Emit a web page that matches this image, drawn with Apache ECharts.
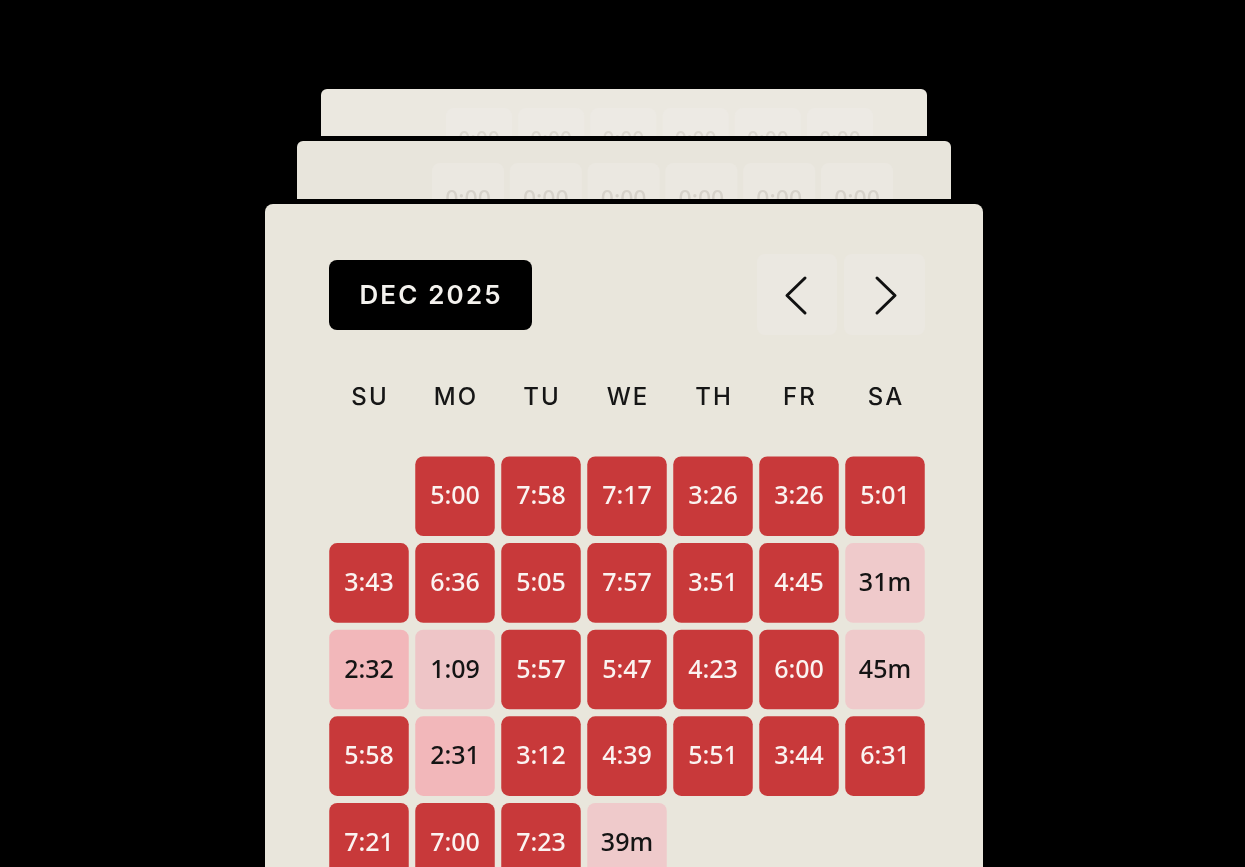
<!DOCTYPE html>
<html>
<head>
<meta charset="utf-8">
<script src="https://cdn.jsdelivr.net/npm/echarts@6/dist/echarts.min.js"></script>
<style>
html,body{margin:0;padding:0;background:#000;}
#chart{width:1245px;height:867px;}
</style>
</head>
<body>
<div id="chart"></div>
<script>
// ---- data ----
var monthTitle = 'DEC 2025';
var weekdays = ['SU', 'MO', 'TU', 'WE', 'TH', 'FR', 'SA'];
var firstWeekday = 1; // Dec 1, 2025 is a Monday
// minutes tracked per day, Dec 1..31
var dayMinutes = [300, 478, 437, 206, 206, 301,
  223, 396, 305, 477, 231, 285, 31,
  152, 69, 357, 347, 263, 360, 45,
  358, 151, 192, 279, 351, 224, 391,
  441, 420, 443, 39];
var ghostLabels = ['0:00', '0:00', '0:00', '0:00', '0:00', '0:00'];

function fmt(m) {
  if (m < 60) return m + 'm';
  var h = Math.floor(m / 60), mm = m % 60;
  return h + ':' + (mm < 10 ? '0' : '') + mm;
}

var cells = dayMinutes.map(function (m, i) {
  var pos = i + firstWeekday;
  return [pos % 7, Math.floor(pos / 7), m];
});

var spaced = function (s) { return s.split('').join('\u200A'); };

var chart = echarts.init(document.getElementById('chart'), null, {renderer: 'canvas'});

var graphics = [];
// back card 3 (furthest)
graphics.push({type: 'rect', shape: {x: 321, y: 89, width: 606, height: 47, r: [6, 6, 0, 0]}, style: {fill: '#ebe8e0'}, z: 0});
ghostLabels.forEach(function (t, i) {
  var x3 = 446 + i * 72.2;
  graphics.push({type: 'rect', shape: {x: x3, y: 108, width: 66, height: 28, r: [8, 8, 0, 0]}, style: {fill: '#edeae4'}, z: 0.5});
  graphics.push({type: 'text', x: x3 + 33, y: 141, style: {text: t, fill: '#dcd8d0', font: '500 21px "Noto Sans", sans-serif', align: 'center', verticalAlign: 'middle'}, z: 0.6});
});
graphics.push({type: 'rect', shape: {x: 290, y: 136, width: 670, height: 5}, style: {fill: '#000'}, z: 0.8});
// back card 2
graphics.push({type: 'rect', shape: {x: 297, y: 141, width: 654, height: 58, r: [6, 6, 0, 0]}, style: {fill: '#e8e5dc'}, z: 1});
ghostLabels.forEach(function (t, i) {
  var x2 = 432 + i * 77.8;
  graphics.push({type: 'rect', shape: {x: x2, y: 163, width: 72, height: 36, r: [8, 8, 0, 0]}, style: {fill: '#ebe8e1'}, z: 1.5});
  graphics.push({type: 'text', x: x2 + 36, y: 200, style: {text: t, fill: '#d6d2ca', font: '500 23px "Noto Sans", sans-serif', align: 'center', verticalAlign: 'middle'}, z: 1.6});
});
// separator and main card
graphics.push({type: 'rect', shape: {x: 260, y: 199, width: 730, height: 5}, style: {fill: '#000'}, z: 1.8});
graphics.push({type: 'rect', shape: {x: 265, y: 204, width: 718, height: 700, r: [8, 8, 0, 0]}, style: {fill: '#e9e6dc'}, z: 1.9});
// month badge
graphics.push({type: 'rect', shape: {x: 329, y: 260, width: 203, height: 70, r: 8}, style: {fill: '#000'}, z: 5});
graphics.push({type: 'text', x: 430, y: 296, style: {text: spaced(monthTitle), fill: '#f4f2ee', font: '600 26px Inter, "Noto Sans", sans-serif', align: 'center', verticalAlign: 'middle'}, z: 6});
// nav buttons
graphics.push({type: 'rect', shape: {x: 757, y: 254, width: 80, height: 81, r: 8}, style: {fill: '#ebe8e1'}, z: 5});
graphics.push({type: 'rect', shape: {x: 844, y: 254, width: 81, height: 81, r: 8}, style: {fill: '#ebe8e1'}, z: 5});
graphics.push({type: 'polyline', shape: {points: [[805, 278], [787, 295.5], [805, 313]]}, style: {stroke: '#111', lineWidth: 3, fill: null, lineCap: 'round', lineJoin: 'round'}, z: 6});
graphics.push({type: 'polyline', shape: {points: [[877, 278], [895, 295.5], [877, 313]]}, style: {stroke: '#111', lineWidth: 3, fill: null, lineCap: 'round', lineJoin: 'round'}, z: 6});

var option = {
  backgroundColor: '#000',
  animation: false,
  graphic: {elements: graphics},
  grid: {left: 326, top: 453, width: 602, bottom: 0, z: 10},
  xAxis: {
    type: 'category', data: weekdays, position: 'top',
    axisLine: {show: false}, axisTick: {show: false}, splitLine: {show: false},
    axisLabel: {margin: 43, color: '#161616', fontSize: 24, fontWeight: 500,
      fontFamily: 'Inter, "Noto Sans", sans-serif',
      formatter: function (v) { return spaced(v); }},
    z: 10
  },
  yAxis: {
    type: 'value', inverse: true, min: -0.5, max: 4.28, show: false,
    splitLine: {show: false}
  },
  visualMap: {
    show: false, type: 'piecewise', dimension: 2, seriesIndex: 0,
    pieces: [
      {lt: 60, color: '#efcacb'},
      {gte: 60, lt: 120, color: '#eec5c7'},
      {gte: 120, lt: 180, color: '#f2b7ba'},
      {gte: 180, color: '#c8393a'}
    ]
  },
  series: [{
    type: 'custom',
    z: 10,
    clip: false,
    data: cells,
    encode: {x: 0, y: 1},
    renderItem: function (params, api) {
      var c = api.coord([api.value(0), api.value(1)]);
      var sz = api.size([1, 1]);
      var w = sz[0] - 6.5, h = sz[1] - 7;
      var val = api.value(2);
      return {
        type: 'group',
        children: [
          {type: 'rect', shape: {x: c[0] - w / 2, y: c[1] - h / 2, width: w, height: h, r: 8},
            style: {fill: api.visual('color')}},
          {type: 'text', x: c[0], y: c[1] + 1,
            style: {text: fmt(val), fill: val >= 180 ? '#fbf3f1' : '#141414',
              font: '500 25px "Noto Sans", sans-serif', align: 'center', verticalAlign: 'middle'}}
        ]
      };
    }
  }]
};
chart.setOption(option);
</script>
</body>
</html>
